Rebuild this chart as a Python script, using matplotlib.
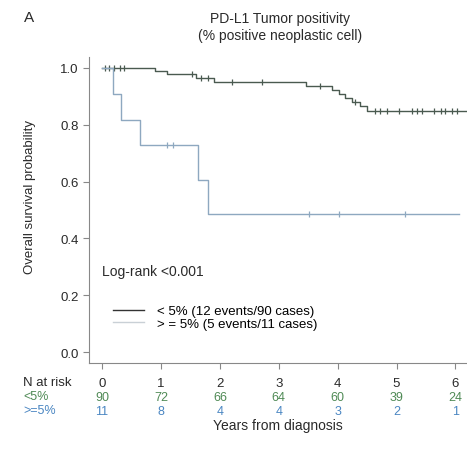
import matplotlib

matplotlib.use("Agg")
import matplotlib.pyplot as plt
import numpy as np
from matplotlib.lines import Line2D

plt.rcParams["font.family"] = ["Liberation Sans", "DejaVu Sans"]

# <5% group: event times (years) and survival after each event
low_times = [0.89, 1.10, 1.59, 1.90, 3.47, 3.90, 4.02, 4.12, 4.24, 4.38, 4.50]
low_surv = [0.989, 0.977, 0.964, 0.951, 0.937, 0.923, 0.909, 0.895, 0.880, 0.865, 0.848]
low_censor = [0.05, 0.12, 0.20, 0.30, 0.37, 1.52, 1.68, 1.80, 2.20, 2.72, 3.70, 4.30,
              4.64, 4.72, 4.84, 5.04, 5.27, 5.35, 5.44, 5.64, 5.75, 5.83, 5.94, 6.03, 6.23]
low_end = 6.3

# >=5% group
high_times = [0.19, 0.32, 0.64, 1.62, 1.79]
high_surv = [0.909, 0.818, 0.727, 0.606, 0.485]
high_censor = [1.10, 1.21, 3.52, 4.02, 5.14]
high_end = 6.06

risk_years = [0, 1, 2, 3, 4, 5, 6]
risk_low = [90, 72, 66, 64, 60, 39, 24]
risk_high = [11, 8, 4, 4, 3, 2, 1]

c_low = "#4a5a50"
c_high = "#8ea8c0"
c_low_txt = "#4f8a55"
c_high_txt = "#4a86c2"
c_txt = "#2a2a2a"


def km_curve(times, surv, end):
    t = np.r_[0.0, times, end]
    s = np.r_[1.0, surv, surv[-1]]
    return t, s


def censor_y(times, surv, cens):
    idx = np.searchsorted(times, cens, side="right")
    s = np.r_[1.0, surv]
    return s[idx]


fig = plt.figure(figsize=(4.67, 4.56), dpi=100)
ax = fig.add_axes([0.1906, 0.2009, 0.815, 0.673])

t, s = km_curve(low_times, low_surv, low_end)
ax.step(t, s, where="post", color=c_low, lw=1.0)
ax.plot(low_censor, censor_y(low_times, low_surv, low_censor), ls="none",
        marker="|", ms=4, mew=0.9, color=c_low)

t, s = km_curve(high_times, high_surv, high_end)
ax.step(t, s, where="post", color=c_high, lw=1.0)
ax.plot(high_censor, censor_y(high_times, high_surv, high_censor), ls="none",
        marker="|", ms=4, mew=0.9, color=c_high)

ax.set_xlim(-0.222, 6.24)
ax.set_ylim(-0.04, 1.04)
ax.set_yticks([0.0, 0.2, 0.4, 0.6, 0.8, 1.0])
ax.set_yticklabels(["0.0", "0.2", "0.4", "0.6", "0.8", "1.0"])
ax.set_xticks(risk_years)
ax.set_xticklabels([str(v) for v in risk_years])
for side in ("top", "right"):
    ax.spines[side].set_visible(False)
for side in ("left", "bottom"):
    ax.spines[side].set_color("#888888")
    ax.spines[side].set_linewidth(0.8)
ax.tick_params(axis="both", colors="#888888", labelcolor=c_txt, labelsize=9.5,
               length=4, width=0.8)
ax.tick_params(axis="x", pad=6)
ax.set_ylabel("Overall survival probability", fontsize=9.5, color=c_txt)
ax.yaxis.set_label_coords(-0.138, 0.546)

ax.text(0.0, 0.286, "Log-rank <0.001", fontsize=10, color=c_txt, va="center")

handles = [Line2D([], [], color="#333333", lw=1.0),
           Line2D([], [], color="#c9d0d6", lw=1.0)]
ax.legend(handles, ["< 5% (12 events/90 cases)", "> = 5% (5 events/11 cases)"],
          loc="upper left", bbox_to_anchor=(0.062, 0.19), frameon=False, fontsize=9.5,
          handlelength=2.4, handletextpad=1.0, labelspacing=0.0, borderaxespad=0,
          borderpad=0)

# numbers at risk
fig.text(23 / 467, 1 - 383 / 456, "N at risk", fontsize=9.5, color=c_txt, va="center")
fig.text(23 / 467, 1 - 397 / 456, "<5%", fontsize=9, color=c_low_txt, va="center")
fig.text(23 / 467, 1 - 411 / 456, ">=5%", fontsize=9, color=c_high_txt, va="center")
trans = ax.get_xaxis_transform()
for x, a, b in zip(risk_years, risk_low, risk_high):
    ax.text(x, -0.108, str(a), transform=trans, fontsize=9, color=c_low_txt,
            ha="center", va="center", clip_on=False)
    ax.text(x, -0.154, str(b), transform=trans, fontsize=9, color=c_high_txt,
            ha="center", va="center", clip_on=False)
fig.text(278 / 467, 1 - 426 / 456, "Years from diagnosis", fontsize=10, color=c_txt,
         ha="center", va="center")

fig.text(280 / 467, 1 - 19 / 456, "PD-L1 Tumor positivity", fontsize=10, color=c_txt,
         ha="center", va="center")
fig.text(280 / 467, 1 - 36 / 456, "(% positive neoplastic cell)", fontsize=10,
         color=c_txt, ha="center", va="center")
fig.text(24 / 467, 1 - 18 / 456, "A", fontsize=11, color=c_txt, ha="left", va="center")

fig.savefig("out.png", dpi=100)
